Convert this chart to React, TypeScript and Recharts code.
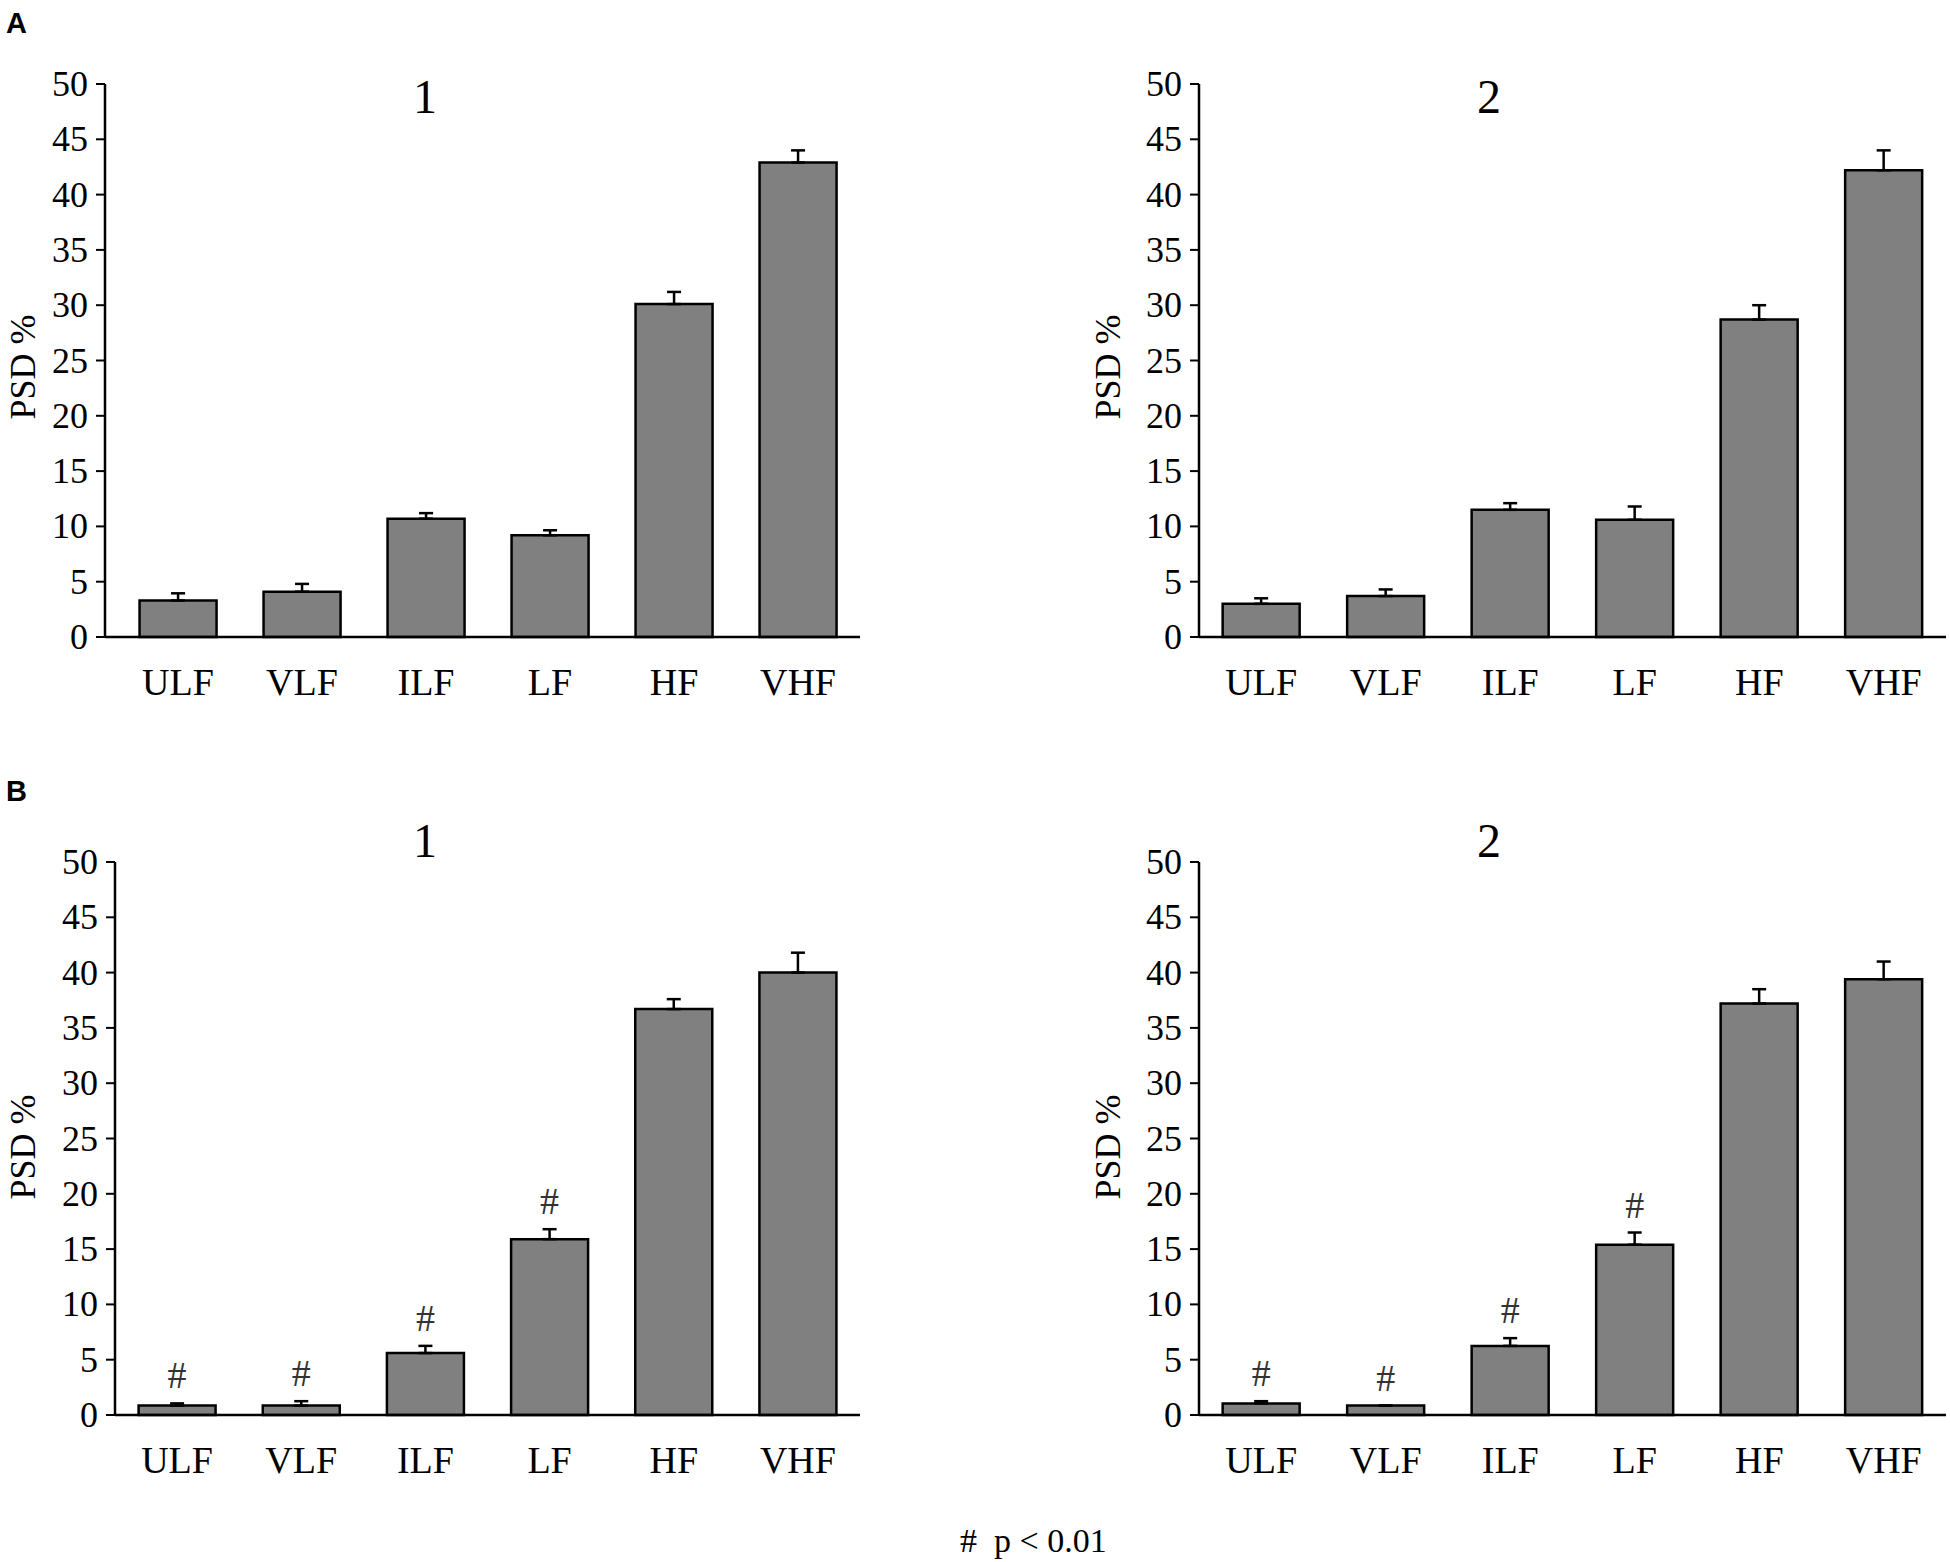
import React from 'react';
import { BarChart, Bar, XAxis, YAxis, ErrorBar, LabelList } from 'recharts';

/* ------------------------- data ----------------------------------------- */
const categories = ['ULF', 'VLF', 'ILF', 'LF', 'HF', 'VHF'];
const yTicks = [0, 5, 10, 15, 20, 25, 30, 35, 40, 45, 50];

// panel A
const a1Mean = [3.3, 4.1, 10.7, 9.2, 30.1, 42.9];
const a1Err = [0.65, 0.7, 0.5, 0.45, 1.1, 1.1];
const a2Mean = [3.0, 3.7, 11.5, 10.6, 28.7, 42.2];
const a2Err = [0.5, 0.6, 0.6, 1.2, 1.3, 1.8];

// panel B
const b1Mean = [0.85, 0.85, 5.6, 15.9, 36.7, 40.0];
const b1Err = [0.2, 0.4, 0.65, 0.9, 0.9, 1.8];
const b2Mean = [1.05, 0.85, 6.25, 15.4, 37.2, 39.4];
const b2Err = [0.2, 0, 0.7, 1.1, 1.3, 1.6];

// # p < 0.01 marks
const noSig = [false, false, false, false, false, false];
const b1Sig = [true, true, true, true, false, false];
const b2Sig = [true, true, true, true, false, false];

/* ------------------------- styles --------------------------------------- */
const SERIF = '"Liberation Serif", "Times New Roman", serif';
const SANS = '"Liberation Sans", Arial, sans-serif';
const Y_W = 80;
const X_H = 80;

interface PanelProps {
  box: [number, number, number, number]; // chart left, top, width, height
  plot: [number, number, number, number]; // plot left, right, top(50), bottom(0)
  padLeft: number;
  means: number[];
  errs: number[];
  sig: boolean[];
}

/* tick renderers */
const xTick = (p: any) => (
  <text
    x={p.x}
    y={p.y + 58}
    textAnchor="middle"
    fontSize={38}
    fontFamily={SERIF}
    fill="#000"
  >
    {p.payload.value}
  </text>
);

const yTick = (p: any) => (
  <text
    x={p.x}
    y={p.y}
    dy={12}
    textAnchor="end"
    fontSize={36}
    fontFamily={SERIF}
    fill="#000"
  >
    {p.payload.value}
  </text>
);

const Panel = ({ box, plot, padLeft, means, errs, sig }: PanelProps) => {
  const [cx, cy, cw, ch] = box;
  const [L, R, T, B] = plot;
  const rows = categories.map((c, i) => ({
    name: c,
    value: means[i],
    err: [0, errs[i]],
    mark: sig[i] ? '#' : '',
  }));

  // "#" sits just above the error bar
  const hash = (p: any) => {
    const vb = p.viewBox ?? p;
    const i = p.index;
    if (!p.value || i == null) return null;
    const pxPerUnit = vb.height / means[i];
    const top = vb.y - errs[i] * pxPerUnit;
    return (
      <text
        x={vb.x + vb.width / 2}
        y={top - 28}
        textAnchor="middle"
        dominantBaseline="central"
        fontSize={38}
        fontFamily={SERIF}
        fill="#333"
      >
        #
      </text>
    );
  };

  return (
    <div style={{ position: 'absolute', left: cx, top: cy, width: cw, height: ch }}>
      <BarChart
        width={cw}
        height={ch}
        data={rows}
        barCategoryGap="19%"
        margin={{
          left: L - cx - Y_W,
          right: cx + cw - R,
          top: T - cy,
          bottom: cy + ch - B - X_H,
        }}
      >
        <XAxis
          dataKey="name"
          height={X_H}
          padding={{ left: padLeft, right: 0 }}
          tickLine={false}
          tickSize={0}
          tickMargin={0}
          interval={0}
          axisLine={{ stroke: '#000', strokeWidth: 2.5 }}
          tick={xTick}
        />
        <YAxis
          width={Y_W}
          domain={[0, 50]}
          ticks={yTicks}
          interval={0}
          tickSize={9}
          tickMargin={8}
          axisLine={{ stroke: '#000', strokeWidth: 2.5 }}
          tickLine={{ stroke: '#000', strokeWidth: 2 }}
          tick={yTick}
        />
        <Bar
          dataKey="value"
          fill="#808080"
          stroke="#000"
          strokeWidth={2.5}
          isAnimationActive={false}
        >
          <ErrorBar
            dataKey="err"
            direction="y"
            width={7}
            stroke="#000"
            strokeWidth={2.5}
            isAnimationActive={false}
          />
          <LabelList dataKey="mark" content={hash} />
        </Bar>
      </BarChart>
    </div>
  );
};

/* ------------------------- page ----------------------------------------- */
export default function App() {
  const txt = { fontFamily: SERIF, fill: '#000' };
  const psd = (x: number, y: number) => (
    <text
      x={x}
      y={y}
      fontSize={36}
      textAnchor="middle"
      dominantBaseline="central"
      transform={`rotate(-90 ${x} ${y})`}
      {...txt}
    >
      PSD %
    </text>
  );
  return (
    <div
      style={{
        position: 'absolute',
        left: 0,
        top: 0,
        width: 1950,
        height: 1562,
        background: '#fff',
      }}
    >
      <Panel box={[0, 40, 975, 720]} plot={[105, 860, 84, 637]} padLeft={11} means={a1Mean} errs={a1Err} sig={noSig} />
      <Panel box={[975, 40, 975, 720]} plot={[1199, 1946, 84, 637]} padLeft={0} means={a2Mean} errs={a2Err} sig={noSig} />
      <Panel box={[0, 800, 975, 720]} plot={[115, 860, 862, 1415]} padLeft={0} means={b1Mean} errs={b1Err} sig={b1Sig} />
      <Panel box={[975, 800, 975, 720]} plot={[1199, 1946, 862, 1415]} padLeft={0} means={b2Mean} errs={b2Err} sig={b2Sig} />

      <svg
        width={1950}
        height={1562}
        style={{ position: 'absolute', left: 0, top: 0, pointerEvents: 'none' }}
      >
        <text x={6} y={33} fontSize={29} fontWeight="bold" fontFamily={SANS}>A</text>
        <text x={6} y={801} fontSize={29} fontWeight="bold" fontFamily={SANS}>B</text>

        <text x={425} y={113} fontSize={48} textAnchor="middle" {...txt}>1</text>
        <text x={1489} y={113} fontSize={48} textAnchor="middle" {...txt}>2</text>
        <text x={425} y={857} fontSize={48} textAnchor="middle" {...txt}>1</text>
        <text x={1489} y={857} fontSize={48} textAnchor="middle" {...txt}>2</text>

        {psd(23, 367)}
        {psd(1108, 367)}
        {psd(23, 1147)}
        {psd(1108, 1147)}

        <text x={960} y={1552} fontSize={34} {...txt}>{'#\u00a0\u00a0p < 0.01'}</text>
      </svg>
    </div>
  );
}
